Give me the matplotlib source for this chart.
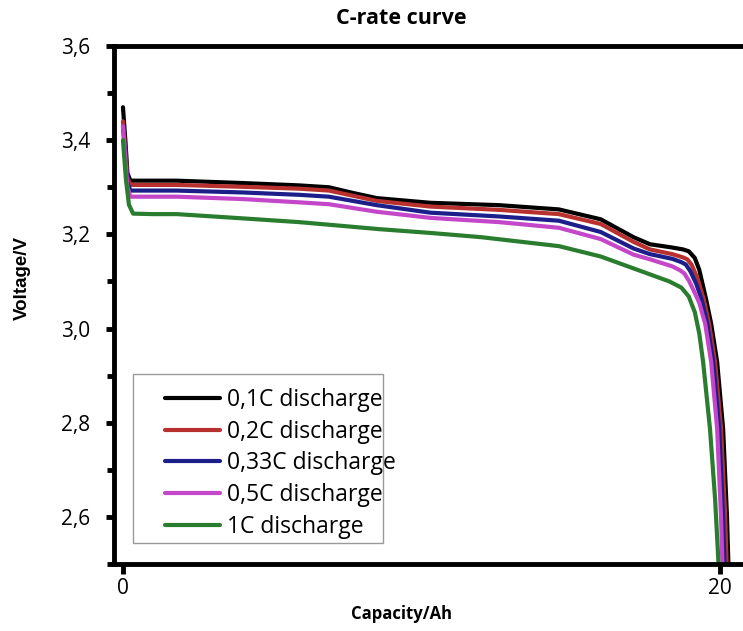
#!/usr/bin/env python3

import numpy
from matplotlib import pyplot
from matplotlib.patches import Rectangle
from matplotlib.ticker import FixedLocator, FuncFormatter

# capacity (Ah) / voltage (V)
cap_01 = [0.0, 0.08, 0.15, 0.25, 1.0, 1.8, 4.0, 5.9, 6.9, 7.7, 8.5, 10.3, 12.6, 14.6, 16.0,
          17.1, 17.65, 18.4, 18.76, 18.95, 19.15, 19.3, 19.53, 19.7, 19.9, 20.1, 20.23, 20.3]
v_01 = [3.47, 3.40, 3.33, 3.314, 3.314, 3.314, 3.309, 3.304, 3.300, 3.288, 3.277, 3.267, 3.262,
        3.253, 3.232, 3.194, 3.179, 3.172, 3.168, 3.164, 3.150, 3.125, 3.062, 3.010, 2.929,
        2.787, 2.60, 2.45]

cap_02 = [0.0, 0.08, 0.15, 0.25, 1.0, 1.8, 4.0, 5.9, 6.9, 7.7, 8.5, 10.3, 12.6, 14.6, 16.0,
          17.1, 17.65, 18.4, 18.76, 18.9, 19.05, 19.25, 19.45, 19.63, 19.83, 20.03, 20.17, 20.24]
v_02 = [3.44, 3.38, 3.32, 3.305, 3.305, 3.305, 3.301, 3.297, 3.293, 3.282, 3.271, 3.259, 3.252,
        3.243, 3.222, 3.184, 3.168, 3.158, 3.151, 3.147, 3.135, 3.105, 3.062, 3.010, 2.929,
        2.787, 2.60, 2.45]

cap_033 = [0.0, 0.08, 0.15, 0.25, 1.0, 1.8, 4.0, 5.9, 6.9, 7.7, 8.5, 10.3, 12.6, 14.6, 16.0,
           17.1, 17.65, 18.4, 18.7, 18.85, 19.0, 19.2, 19.38, 19.57, 19.77, 19.97, 20.1, 20.17]
v_033 = [3.43, 3.37, 3.31, 3.293, 3.293, 3.293, 3.289, 3.284, 3.280, 3.271, 3.262, 3.246, 3.238,
         3.229, 3.205, 3.170, 3.158, 3.148, 3.141, 3.136, 3.122, 3.095, 3.062, 3.010, 2.929,
         2.787, 2.60, 2.45]

cap_05 = [0.0, 0.08, 0.15, 0.25, 1.0, 1.8, 4.0, 5.9, 6.9, 7.7, 8.5, 10.3, 12.6, 14.6, 16.0,
          17.1, 17.65, 18.4, 18.65, 18.8, 18.95, 19.12, 19.3, 19.5, 19.7, 19.9, 20.03, 20.1]
v_05 = [3.43, 3.36, 3.30, 3.280, 3.280, 3.280, 3.275, 3.268, 3.264, 3.256, 3.248, 3.235, 3.226,
        3.214, 3.190, 3.157, 3.147, 3.132, 3.124, 3.117, 3.102, 3.080, 3.055, 3.010, 2.929,
        2.787, 2.60, 2.45]

cap_1 = [0.0, 0.1, 0.2, 0.34, 1.0, 1.8, 4.0, 5.9, 8.6, 10.3, 12.0, 14.6, 16.0, 17.65, 18.3,
         18.7, 18.95, 19.15, 19.3, 19.43, 19.66, 19.83, 19.93, 19.98]
v_1 = [3.40, 3.316, 3.263, 3.244, 3.243, 3.243, 3.234, 3.226, 3.211, 3.203, 3.194, 3.175, 3.153,
       3.115, 3.100, 3.087, 3.068, 3.035, 2.990, 2.929, 2.787, 2.639, 2.52, 2.45]

labels = ["0,1C discharge", "0,2C discharge", "0,33C discharge", "0,5C discharge", "1C discharge"]
colors = ["#000000", "#b8312f", "#1c1f8a", "#c447c9", "#2a7d2e"]

caps = [cap_01, cap_02, cap_033, cap_05, cap_1]
volts = [v_01, v_02, v_033, v_05, v_1]

W, H = 743, 631
fig = pyplot.figure(figsize=(W / 100, H / 100), dpi=100)
ax = fig.add_axes([114 / W, 1 - 564 / H, 636 / W, (564 - 46) / H])

for c, v, lab, col in zip(caps, volts, labels, colors):
    ax.plot(c, v, color=col, lw=3.0, label=lab, solid_capstyle="round",
            solid_joinstyle="round")

ax.set_xlim(-0.30, 21.0)
ax.set_ylim(2.5, 3.6)

ax.xaxis.set_major_locator(FixedLocator([0, 20]))
ax.yaxis.set_major_locator(FixedLocator([2.6, 2.8, 3.0, 3.2, 3.4, 3.6]))
ax.yaxis.set_minor_locator(FixedLocator([2.5, 2.7, 2.9, 3.1, 3.3, 3.5]))
ax.yaxis.set_major_formatter(FuncFormatter(lambda y, p: f"{y:.1f}".replace(".", ",")))

tickfont = "Open Sans"
for lbl in ax.get_xticklabels() + ax.get_yticklabels():
    lbl.set_fontfamily(tickfont)
ax.tick_params(axis="both", which="major", direction="out", length=6, width=3.5,
               labelsize=15)
ax.tick_params(axis="y", which="major", pad=11)
ax.tick_params(axis="y", which="minor", direction="out", length=5, width=3.5)
ax.tick_params(axis="x", which="major", length=7, pad=3)

for s in ["left", "bottom", "top"]:
    ax.spines[s].set_linewidth(3.5)
ax.spines["right"].set_visible(False)

# legend box drawn separately: the longest label runs past its right edge
ax.add_patch(Rectangle((0.0299, 0.0405), 0.3931, 0.3263, transform=ax.transAxes,
                       facecolor="white", edgecolor="#9a9a9a", lw=1.0, zorder=4))
leg = ax.legend(loc="upper left", bbox_to_anchor=(0.0802, 0.340), borderaxespad=0,
                frameon=False, prop={"family": tickfont, "size": 16.5},
                handlelength=2.4, handletextpad=0.3, labelspacing=0.34, borderpad=0)
leg.set_zorder(5)

fig.text(401 / W, 1 - 18 / H, "C-rate curve", ha="center", va="center",
         fontsize=15.5, fontweight="bold", family="Open Sans")
fig.text(401 / W, 1 - 614 / H, "Capacity/Ah", ha="center", va="center",
         fontsize=12, fontweight="bold", family="Open Sans")
fig.text(22 / W, 1 - 278 / H, "Voltage/V", ha="center", va="center", rotation=90,
         fontsize=13.5, fontweight="bold", family="Liberation Sans")

fig.savefig("out.png", dpi=100)
